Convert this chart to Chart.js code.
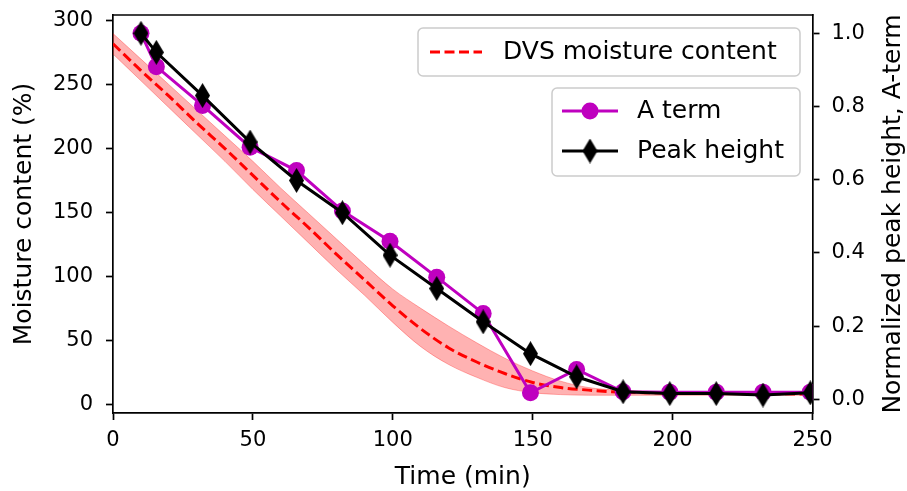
<!DOCTYPE html>
<html>
<head>
<meta charset="utf-8">
<script src="https://cdn.jsdelivr.net/npm/chart.js@4.4.0/dist/chart.umd.min.js"></script>
<style>
html, body { margin: 0; padding: 0; background: #fff; }
</style>
</head>
<body>
<canvas id="chart" width="907" height="491"></canvas>
<script>
// DVS moisture content (%), read every 10 min
const dvsTime  = [0, 10, 20, 30, 40, 50, 60, 70, 80, 90, 100, 110, 120, 130, 140, 150, 160, 170, 180, 190, 200, 210, 220, 230, 240, 250];
const dvsMean  = [282, 261, 241, 220, 200, 179, 158, 138, 117, 97, 77, 59, 44, 33, 24, 17, 13, 11, 9.5, 9, 8.7, 8.5, 8.3, 8.2, 8.1, 8];
const dvsUpper = [290, 270, 250, 230, 210, 190, 169, 149, 129, 109, 90, 75, 61, 48, 36, 26, 18, 13, 11, 10, 9.5, 9.2, 9, 8.8, 8.6, 8.5];
const dvsLower = [274, 253, 232, 211, 190, 168, 147, 126, 105, 85, 64, 45, 31, 21, 13, 9, 7.5, 7, 7, 7, 7, 7, 7, 7, 7, 7];

// normalized spectra (right axis)
const sampleTime = [10, 15.5, 32, 49, 65.6, 82, 99, 115.7, 132.3, 149.2, 165.7, 182.3, 199, 215.6, 232.3, 249.2];
const aTerm      = [1.0, 0.909, 0.803, 0.689, 0.625, 0.515, 0.432, 0.334, 0.235, 0.018, 0.082, 0.021, 0.02, 0.02, 0.02, 0.02];
const peakHeight = [1.0, 0.948, 0.83, 0.703, 0.598, 0.51, 0.394, 0.303, 0.212, 0.125, 0.062, 0.021, 0.016, 0.016, 0.012, 0.018];

const xTicks = [0, 50, 100, 150, 200, 250];
const leftTicks = [0, 50, 100, 150, 200, 250, 300];
const rightTicks = [0, 0.2, 0.4, 0.6, 0.8, 1.0];

const FONT = 'DejaVu Sans';
const MAGENTA = '#bf00bf';

function pts(xs, ys) {
    return xs.map((x, i) => ({ x: x, y: ys[i] }));
}

// thin diamond marker like matplotlib 'd'
function makeDiamond(w, h, color) {
    const c = document.createElement('canvas');
    c.width = w;
    c.height = h;
    const g = c.getContext('2d');
    g.fillStyle = color;
    g.beginPath();
    g.moveTo(w / 2, 0);
    g.lineTo(w, h / 2);
    g.lineTo(w / 2, h);
    g.lineTo(0, h / 2);
    g.closePath();
    g.fill();
    return c;
}
const diamond = makeDiamond(15, 25, '#000');

function fixedWidth(w) {
    return function(scale) {
        scale.width = w;
        scale.paddingTop = 0;
        scale.paddingBottom = 0;
    };
}

function axisTicks(list) {
    return function(scale) {
        scale.ticks = list.map(v => ({ value: v }));
    };
}

// frame top line, right-axis title and the two legend boxes
const extras = {
    id: 'extras',
    afterDraw(chart) {
        const ctx = chart.ctx;
        const a = chart.chartArea;
        ctx.save();
        ctx.strokeStyle = '#000';
        ctx.lineWidth = 1.7;
        ctx.beginPath();
        ctx.moveTo(a.left - 0.85, a.top);
        ctx.lineTo(a.right + 0.85, a.top);
        ctx.stroke();

        // right y title, reading bottom to top
        ctx.fillStyle = '#000';
        ctx.font = '25px "' + FONT + '"';
        ctx.textAlign = 'center';
        ctx.textBaseline = 'middle';
        ctx.translate(893, (a.top + a.bottom) / 2);
        ctx.rotate(-Math.PI / 2);
        ctx.fillText('Normalized peak height, A-term', 0, 0);
        ctx.restore();

        const ds = chart.data.datasets;
        ctx.save();
        ctx.font = '25px "' + FONT + '"';
        ctx.textBaseline = 'middle';
        ctx.textAlign = 'left';

        function box(x, y, w, h) {
            ctx.beginPath();
            ctx.roundRect(x, y, w, h, 5);
            ctx.fillStyle = 'rgba(255,255,255,0.8)';
            ctx.fill();
            ctx.strokeStyle = '#cccccc';
            ctx.lineWidth = 1.5;
            ctx.stroke();
        }

        // legend 1
        box(418, 28, 382, 48);
        ctx.strokeStyle = ds[2].borderColor;
        ctx.lineWidth = 3;
        ctx.setLineDash(ds[2].borderDash);
        ctx.beginPath();
        ctx.moveTo(430, 52);
        ctx.lineTo(482, 52);
        ctx.stroke();
        ctx.setLineDash([]);
        ctx.fillStyle = '#000';
        ctx.fillText(ds[2].label, 503, 52);

        // legend 2
        box(552, 88, 248, 88);
        ctx.strokeStyle = MAGENTA;
        ctx.lineWidth = 3;
        ctx.beginPath();
        ctx.moveTo(562, 111);
        ctx.lineTo(618, 111);
        ctx.stroke();
        ctx.fillStyle = MAGENTA;
        ctx.beginPath();
        ctx.arc(590, 111, 8.5, 0, Math.PI * 2);
        ctx.fill();
        ctx.fillStyle = '#000';
        ctx.fillText(ds[3].label, 637, 111);

        ctx.strokeStyle = '#000';
        ctx.beginPath();
        ctx.moveTo(562, 151);
        ctx.lineTo(618, 151);
        ctx.stroke();
        ctx.drawImage(diamond, 590 - diamond.width / 2, 151 - diamond.height / 2);
        ctx.fillText(ds[4].label, 637, 151);
        ctx.restore();
    }
};

Chart.defaults.font.family = FONT;
Chart.defaults.color = '#000';

new Chart(document.getElementById('chart'), {
    type: 'line',
    data: {
        datasets: [{
            label: 'DVS lower',
            data: pts(dvsTime, dvsLower),
            yAxisID: 'y',
            borderColor: 'rgba(255, 0, 0, 0.3)',
            borderWidth: 1,
            pointRadius: 0,
            cubicInterpolationMode: 'monotone',
            fill: false,
            order: 4
        }, {
            label: 'DVS upper',
            data: pts(dvsTime, dvsUpper),
            yAxisID: 'y',
            borderColor: 'rgba(255, 0, 0, 0.3)',
            backgroundColor: 'rgba(255, 0, 0, 0.3)',
            borderWidth: 1,
            pointRadius: 0,
            cubicInterpolationMode: 'monotone',
            fill: '-1',
            order: 3
        }, {
            label: 'DVS moisture content',
            data: pts(dvsTime, dvsMean),
            yAxisID: 'y',
            borderColor: '#ff0000',
            borderWidth: 3,
            borderDash: [10, 4.5],
            pointRadius: 0,
            cubicInterpolationMode: 'monotone',
            fill: false,
            order: 2
        }, {
            label: 'A term',
            data: pts(sampleTime, aTerm),
            yAxisID: 'y2',
            borderColor: MAGENTA,
            backgroundColor: MAGENTA,
            borderWidth: 3,
            pointRadius: 8.5,
            pointBorderWidth: 0,
            pointStyle: 'circle',
            tension: 0,
            fill: false,
            order: 1
        }, {
            label: 'Peak height',
            data: pts(sampleTime, peakHeight),
            yAxisID: 'y2',
            borderColor: '#000',
            backgroundColor: '#000',
            borderWidth: 3,
            pointStyle: diamond,
            tension: 0,
            fill: false,
            order: 0
        }]
    },
    options: {
        responsive: false,
        animation: false,
        layout: { padding: { top: 15, left: 0, right: 0, bottom: 0 } },
        plugins: {
            legend: { display: false },
            tooltip: { enabled: false }
        },
        scales: {
            x: {
                type: 'linear',
                min: 0,
                max: 250,
                afterBuildTicks: axisTicks(xTicks),
                afterFit: function(scale) {
                    scale.height = 78;
                    scale.paddingLeft = 0;
                    scale.paddingRight = 0;
                },
                border: { display: true, color: '#000', width: 1.7 },
                grid: { drawOnChartArea: false, drawTicks: true, tickLength: 7, tickWidth: 1.7, tickColor: '#000' },
                ticks: { font: { size: 21 }, padding: 8, maxRotation: 0 },
                title: { display: true, text: 'Time (min)', font: { size: 25, lineHeight: 1.0 }, padding: { top: 0, bottom: 1.5 } }
            },
            y: {
                type: 'linear',
                position: 'left',
                min: -6.9,
                max: 304.5,
                afterBuildTicks: axisTicks(leftTicks),
                afterFit: fixedWidth(113),
                border: { display: true, color: '#000', width: 1.7 },
                grid: { drawOnChartArea: false, drawTicks: true, tickLength: 7, tickWidth: 1.7, tickColor: '#000' },
                ticks: { font: { size: 21 }, padding: 13 },
                title: { display: true, text: 'Moisture content (%)', font: { size: 25, lineHeight: 1.0 }, padding: { top: 12 } }
            },
            y2: {
                type: 'linear',
                position: 'right',
                min: -0.037,
                max: 1.05,
                afterBuildTicks: axisTicks(rightTicks),
                afterFit: fixedWidth(94.5),
                border: { display: true, color: '#000', width: 1.7 },
                grid: { drawOnChartArea: false, drawTicks: true, tickLength: 7, tickWidth: 1.7, tickColor: '#000' },
                ticks: { font: { size: 21 }, padding: 12, callback: v => v.toFixed(1) }
            }
        }
    },
    plugins: [extras]
});
</script>
</body>
</html>
